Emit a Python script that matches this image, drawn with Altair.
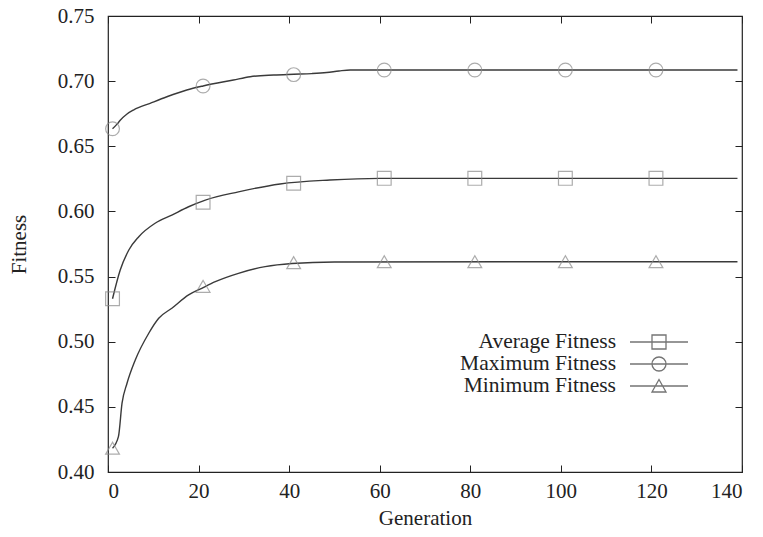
import altair as alt
import pandas as pd

FONT = "Liberation Serif"

series_names = ["Average Fitness", "Maximum Fitness", "Minimum Fitness"]

# Curves (generation, fitness)
avg_gen = [1, 2.7, 4.6, 6.8, 10.4, 14.1, 17.8, 21.5, 28.8, 38, 49, 60, 139]
avg_val = [0.533, 0.555, 0.5704, 0.5806, 0.5909, 0.5972, 0.6036, 0.6087, 0.615, 0.6211, 0.6241, 0.6254, 0.6254]

max_gen = [1, 2, 2.7, 4.2, 5.7, 9.3, 13, 17.4, 21, 27.7, 31.4, 36.6, 41, 45, 48.3, 51, 53.5, 139]
max_val = [0.6635, 0.667, 0.670, 0.6748, 0.678, 0.683, 0.688, 0.6932, 0.6963, 0.7009, 0.7034, 0.7047, 0.7053,
           0.7058, 0.7066, 0.7078, 0.7086, 0.7086]

min_gen = [1, 2.3, 3.1, 4.2, 6, 9, 11.2, 14.1, 17.8, 20.7, 23.7, 28.8, 34.7, 40.6, 50, 139]
min_val = [0.4183, 0.4271, 0.4528, 0.4681, 0.4858, 0.5065, 0.518, 0.5257, 0.5359, 0.541, 0.5461, 0.5525,
           0.5576, 0.560, 0.5612, 0.5614]

# Marker points
marker_gen = [1, 21, 41, 61, 81, 101, 121]
avg_marker = [0.533, 0.607, 0.6216, 0.6254, 0.6254, 0.6254, 0.6254]
max_marker = [0.6635, 0.6963, 0.7050, 0.7086, 0.7086, 0.7086, 0.7086]
min_marker = [0.4183, 0.5425, 0.5607, 0.5614, 0.5614, 0.5614, 0.5614]

x_ticks = [0, 20, 40, 60, 80, 100, 120, 140]
y_ticks = [0.40, 0.45, 0.50, 0.55, 0.60, 0.65, 0.70, 0.75]

line_rows = []
for name, gens, vals in zip(series_names, [avg_gen, max_gen, min_gen], [avg_val, max_val, min_val]):
    for g, v in zip(gens, vals):
        line_rows.append({"series": name, "gen": g, "fitness": v})
lines_df = pd.DataFrame(line_rows)

marker_rows = []
for name, vals in zip(series_names, [avg_marker, max_marker, min_marker]):
    for g, v in zip(marker_gen, vals):
        marker_rows.append({"series": name, "gen": g, "fitness": v})
markers_df = pd.DataFrame(marker_rows)

# legend symbols: a line sample with the marker, drawn to the right of the label
legend_paths = [
    "M2.5,0H8.3M4.7,-0.7H6.1V0.7H4.7Z",
    "M2.5,0H8.3M6.1,0A0.7,0.7 0 1,1 4.7,0A0.7,0.7 0 1,1 6.1,0Z",
    "M2.5,0H8.3M5.4,-0.65L6.1,0.6H4.7Z",
]

x_scale = alt.Scale(domain=[0, 140], nice=False)
y_scale = alt.Scale(domain=[0.40, 0.75], nice=False, zero=False)

TICK = 7

lines = alt.Chart(lines_df).mark_line(color="#3a3a3a", strokeWidth=1.4, interpolate="monotone").encode(
    x=alt.X("gen:Q", scale=x_scale,
            axis=alt.Axis(values=x_ticks, title="Generation", orient="bottom", offset=-TICK, tickSize=TICK,
                          domain=False, grid=False, labelPadding=8, titlePadding=6)),
    y=alt.Y("fitness:Q", scale=y_scale,
            axis=alt.Axis(values=y_ticks, format=".2f", title="Fitness", orient="left", offset=-TICK,
                          tickSize=TICK, domain=False, grid=False, labelPadding=14, titlePadding=28)),
    detail="series:N",
)

markers = alt.Chart(markers_df).mark_point(filled=False, color="#8a8a8a", size=190, strokeWidth=1.2).encode(
    x=alt.X("gen:Q", scale=x_scale,
            axis=alt.Axis(values=x_ticks, orient="top", labels=False, title=None, offset=-TICK, tickSize=TICK,
                          domain=False, grid=False)),
    y=alt.Y("fitness:Q", scale=y_scale,
            axis=alt.Axis(values=y_ticks, orient="right", labels=False, title=None, offset=-TICK,
                          tickSize=TICK, domain=False, grid=False)),
    shape=alt.Shape("series:N", scale=alt.Scale(domain=series_names, range=["square", "circle", "triangle-up"]),
                    legend=None),
)

legend_layer = alt.Chart(markers_df).transform_filter("false").mark_point(
    filled=False, color="#3a3a3a", strokeWidth=1.3
).encode(
    x=alt.X("gen:Q", scale=x_scale, axis=None),
    y=alt.Y("fitness:Q", scale=y_scale, axis=None),
    shape=alt.Shape("series:N", scale=alt.Scale(domain=series_names, range=legend_paths),
                    legend=alt.Legend(orient="none", legendX=486, legendY=315, title=None,
                                      labelFont=FONT, labelFontSize=21.5, labelColor="#222",
                                      labelAlign="right", labelOffset=0, labelLimit=300,
                                      symbolSize=400, symbolStrokeWidth=1.3, rowPadding=0, padding=0)),
)

chart = alt.layer(lines, markers, legend_layer).resolve_scale(
    shape="independent"
).resolve_axis(
    x="independent", y="independent"
).properties(
    width=634, height=456,
    background="white",
    autosize=alt.AutoSizeParams(type="none"),
    padding={"left": 108, "top": 16, "right": 21, "bottom": 65},
).configure_view(
    stroke="#222", strokeWidth=1.2
).configure_axis(
    labelFont=FONT, titleFont=FONT, labelFontSize=21, titleFontSize=21,
    labelColor="#222", titleColor="#222", tickColor="#222", titleFontWeight="normal", tickWidth=1
)

chart.save("out.html", embed_options={"renderer": "svg", "actions": False})
